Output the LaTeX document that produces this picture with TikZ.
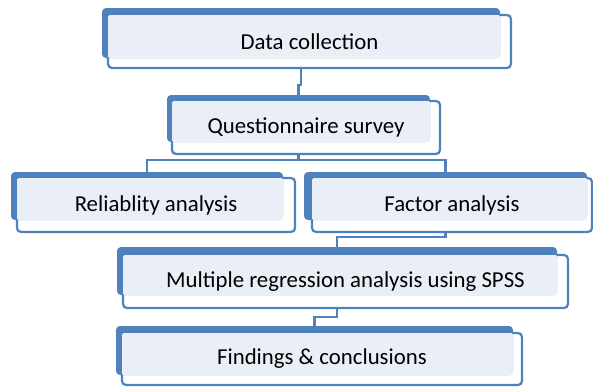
\documentclass[tikz,border=0pt]{standalone}
\usepackage{fontspec}
\setmainfont{Carlito}
\usetikzlibrary{calc,backgrounds}
\definecolor{boxblue}{HTML}{4F81BD}
\definecolor{boxlight}{HTML}{EAEFF7}
\tikzset{
  x=1pt, y=-1pt,
  frontbox/.style={draw=boxblue, line width=2.2pt, fill=white, rounded corners=4pt,
    inner sep=0pt, outer sep=0pt},
  backbox/.style={fill=boxblue, draw=none, rounded corners=4pt, inner sep=0pt, outer sep=0pt},
  lightfill/.style={fill=boxlight, rounded corners=1.5pt},
  boxtext/.style={font=\fontsize{22.8}{27}\selectfont, text=black, inner sep=0pt},
  link/.style={draw=boxblue, line width=2.2pt}
}
\begin{document}
\begin{tikzpicture}
\useasboundingbox (0,0) rectangle (593,386);

% Data collection
\node[frontbox, minimum width=403pt, minimum height=53pt] (fr1) at (309.5,41.5) {};
\node[backbox, minimum width=398pt, minimum height=50pt] (bk1) at (301,33) {};
\fill[lightfill] (fr1.north west) rectangle (bk1.south east);
\node[boxtext] (t1) at (fr1.center) {Data collection};

% Questionnaire survey
\node[frontbox, minimum width=268pt, minimum height=53pt] (fr2) at (306,127.5) {};
\node[backbox, minimum width=263pt, minimum height=47pt] (bk2) at (298.5,118.5) {};
\fill[lightfill] (fr2.north west) rectangle (bk2.south east);
\node[boxtext] (t2) at (fr2.center) {Questionnaire survey};

% Reliablity analysis
\node[frontbox, minimum width=278pt, minimum height=54pt] (fr3) at (156,205) {};
\node[backbox, minimum width=272pt, minimum height=48pt] (bk3) at (147,196) {};
\fill[lightfill] (fr3.north west) rectangle (bk3.south east);
\node[boxtext] (t3) at (fr3.center) {Reliablity analysis};

% Factor analysis
\node[frontbox, minimum width=280pt, minimum height=54pt] (fr4) at (452,205) {};
\node[backbox, minimum width=283pt, minimum height=48pt] (bk4) at (445.5,196) {};
\fill[lightfill] (fr4.north west) rectangle (bk4.south east);
\node[boxtext] (t4) at (fr4.center) {Factor analysis};

% Multiple regression
\node[frontbox, minimum width=445pt, minimum height=53pt] (fr5) at (345.5,281.5) {};
\node[backbox, minimum width=440pt, minimum height=48pt] (bk5) at (337,271) {};
\fill[lightfill] (fr5.north west) rectangle (bk5.south east);
\node[boxtext] (t5) at (fr5.center) {Multiple regression analysis using SPSS};

% Findings
\node[frontbox, minimum width=400pt, minimum height=52pt] (fr6) at (322,359) {};
\node[backbox, minimum width=397pt, minimum height=49pt] (bk6) at (314.5,350.5) {};
\fill[lightfill] (fr6.north west) rectangle (bk6.south east);
\node[boxtext] (t6) at (fr6.center) {Findings \& conclusions};

% connectors behind the boxes
\begin{scope}[on background layer]
  \draw[link] (bk1.south) |- ($(bk2.north)+(0,-10)$) -- (bk2.north);
  \draw[link] (bk2.south) |- ($(bk3.north)+(0,-12)$) -- (bk3.north);
  \draw[link] (bk2.south) |- ($(bk4.north)+(0,-12)$) -- (bk4.north);
  \draw[link] (bk4.south) |- ($(bk5.north)+(0,-10)$) -- (bk5.north);
  \draw[link] (bk5.south) |- ($(bk6.north)+(0,-9)$) -- (bk6.north);
\end{scope}
\end{tikzpicture}
\end{document}
